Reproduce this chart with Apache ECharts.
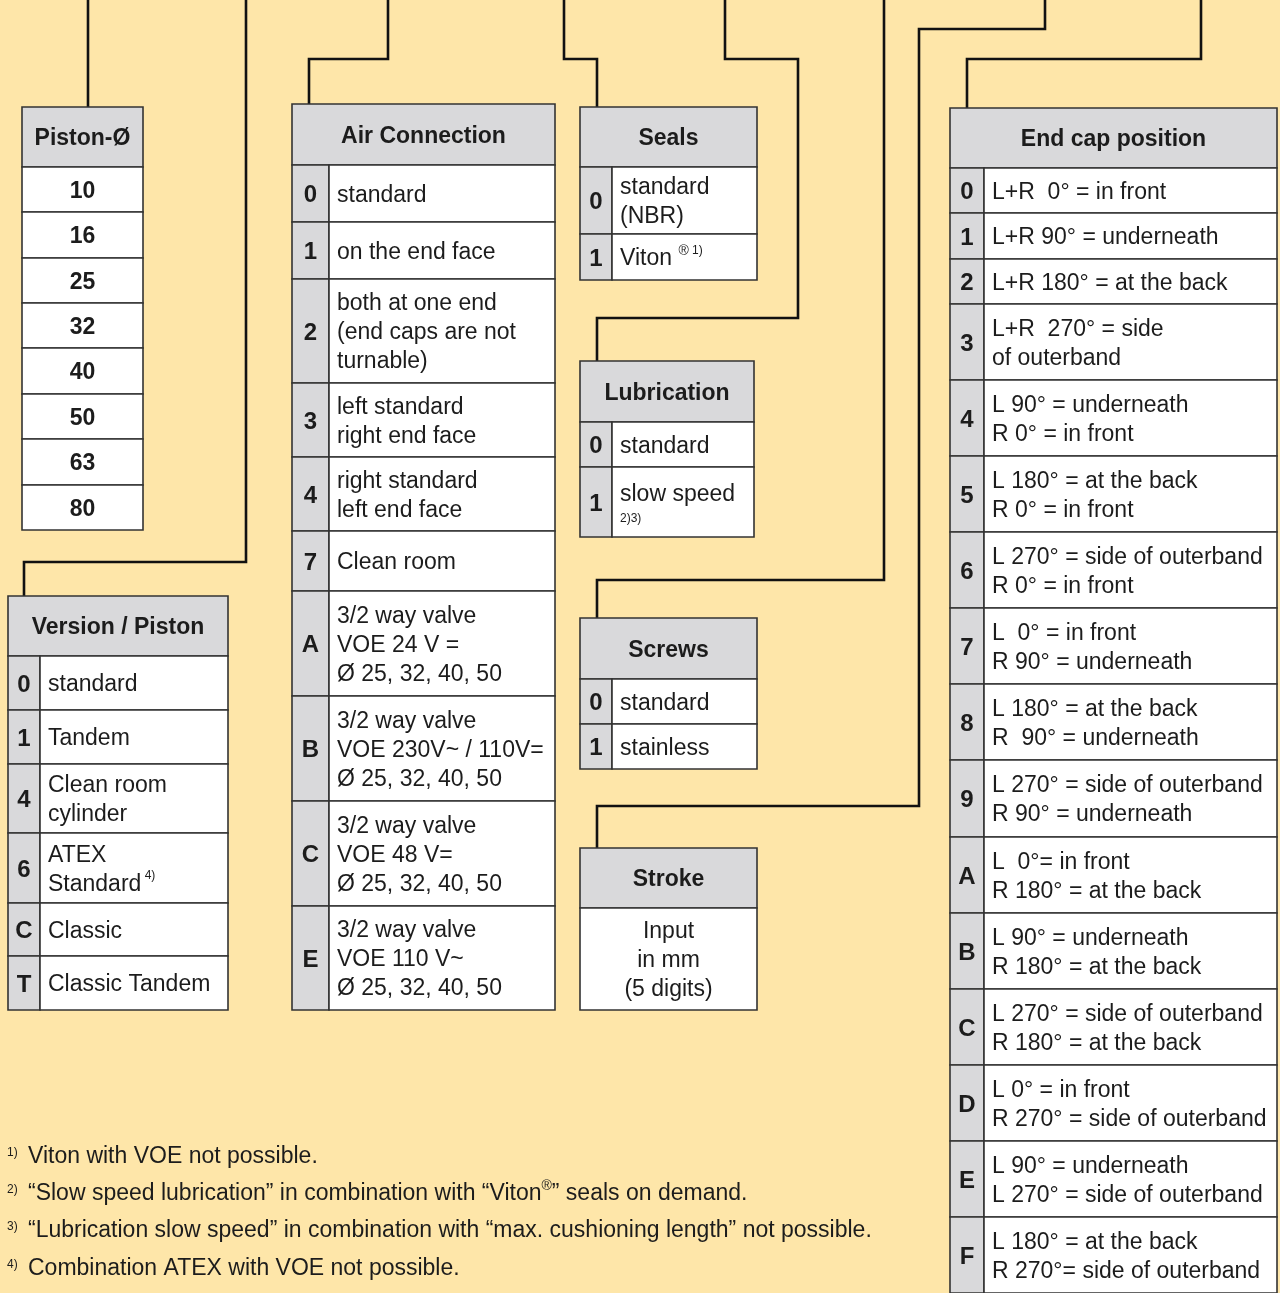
<!DOCTYPE html>
<html><head><meta charset="utf-8">
<script src="https://cdn.jsdelivr.net/npm/echarts@6/dist/echarts.min.js"></script>
<style>html,body{margin:0;padding:0;background:#fee6a9}#c{width:1280px;height:1293px}</style>
</head><body><div id="c"></div>
<script>
// ================= DATA =================
const pistonTitle = 'Piston-Ø';
const pistonValues = ['10', '16', '25', '32', '40', '50', '63', '80'];

const versionTitle = 'Version / Piston';
const versionCodes = ['0', '1', '4', '6', 'C', 'T'];
const versionTexts = ['standard', 'Tandem', 'Clean room\ncylinder', 'ATEX\nStandard{sup| 4)}', 'Classic', 'Classic Tandem'];

const airTitle = 'Air Connection';
const airCodes = ['0', '1', '2', '3', '4', '7', 'A', 'B', 'C', 'E'];
const airTexts = [
  'standard',
  'on the end face',
  'both at one end\n(end caps are not\nturnable)',
  'left standard\nright end face',
  'right standard\nleft end face',
  'Clean room',
  '3/2 way valve\nVOE 24 V =\nØ 25, 32, 40, 50',
  '3/2 way valve\nVOE 230V~ / 110V=\nØ 25, 32, 40, 50',
  '3/2 way valve\nVOE 48 V=\nØ 25, 32, 40, 50',
  '3/2 way valve\nVOE 110 V~\nØ 25, 32, 40, 50'
];

const sealsTitle = 'Seals';
const sealsCodes = ['0', '1'];
const sealsTexts = ['standard\n(NBR)', 'Viton {reg|®}{sup| 1)}'];

const lubTitle = 'Lubrication';
const lubCodes = ['0', '1'];
const lubTexts = ['standard', 'slow speed\n{note|2)3)}'];

const screwsTitle = 'Screws';
const screwsCodes = ['0', '1'];
const screwsTexts = ['standard', 'stainless'];

const strokeTitle = 'Stroke';
const strokeTexts = ['Input\nin mm\n(5 digits)'];

const endcapTitle = 'End cap position';
const endcapCodes = ['0', '1', '2', '3', '4', '5', '6', '7', '8', '9', 'A', 'B', 'C', 'D', 'E', 'F'];
const endcapTexts = [
  'L+R  0° = in front',
  'L+R 90° = underneath',
  'L+R 180° = at the back',
  'L+R  270° = side\nof outerband',
  'L 90° = underneath\nR 0° = in front',
  'L 180° = at the back\nR 0° = in front',
  'L 270° = side of outerband\nR 0° = in front',
  'L  0° = in front\nR 90° = underneath',
  'L 180° = at the back\nR  90° = underneath',
  'L 270° = side of outerband\nR 90° = underneath',
  'L  0°= in front\nR 180° = at the back',
  'L 90° = underneath\nR 180° = at the back',
  'L 270° = side of outerband\nR 180° = at the back',
  'L 0° = in front\nR 270° = side of outerband',
  'L 90° = underneath\nL 270° = side of outerband',
  'L 180° = at the back\nR 270°= side of outerband'
];

const footnoteMarks = ['1)', '2)', '3)', '4)'];
const footnoteTexts = [
  'Viton with VOE not possible.',
  '“Slow speed lubrication” in combination with “Viton{reg|®}” seals on demand.',
  '“Lubrication slow speed” in combination with “max. cushioning length” not possible.',
  'Combination ATEX with VOE not possible.'
];

// ================= LAYOUT / STYLE =================
const FONT = '"Liberation Sans", Arial, Helvetica, sans-serif';
const BG = '#fee6a9', HEAD = '#d9d9db', CODEFILL = '#d9d9db', BORDER = '#333333', INK = '#1c1c1c', WIRE = '#111111';
const FS = 23, LH = 29, TEXT_DY = 2;

const tables = [
  { title: pistonTitle, codes: null, texts: pistonValues, bodyBold: true, bodyCenter: true,
    x0: 22, x1: 143, y0: 107, headerH: 60, rows: [45, 46, 45, 45, 46, 45, 46, 45] },
  { title: versionTitle, codes: versionCodes, texts: versionTexts,
    x0: 8, x1: 228, y0: 596, headerH: 60, codeW: 32, rows: [54, 54, 69, 70, 53, 54] },
  { title: airTitle, codes: airCodes, texts: airTexts,
    x0: 292, x1: 555, y0: 104, headerH: 61, codeW: 37, rows: [57, 57, 104, 74, 74, 60, 105, 105, 105, 104] },
  { title: sealsTitle, codes: sealsCodes, texts: sealsTexts,
    x0: 580, x1: 757, y0: 107, headerH: 60, codeW: 32, rows: [67, 46] },
  { title: lubTitle, codes: lubCodes, texts: lubTexts,
    x0: 580, x1: 754, y0: 361, headerH: 61, codeW: 32, rows: [45, 70] },
  { title: screwsTitle, codes: screwsCodes, texts: screwsTexts,
    x0: 580, x1: 757, y0: 618, headerH: 61, codeW: 32, rows: [45, 45] },
  { title: strokeTitle, codes: null, texts: strokeTexts, bodyBold: false, bodyCenter: true,
    x0: 580, x1: 757, y0: 848, headerH: 60, rows: [102] },
  { title: endcapTitle, codes: endcapCodes, texts: endcapTexts,
    x0: 950, x1: 1277, y0: 108, headerH: 60, codeW: 34, rows: [45, 46, 45, 76, 76, 76, 76, 76, 76, 77, 76, 76, 76, 76, 76, 76] }
];

// connector routes (layout)
const routes = [
  [[88, 0], [88, 107]],
  [[246, 0], [246, 562], [24, 562], [24, 596]],
  [[388, 0], [388, 59], [309, 59], [309, 104]],
  [[564, 0], [564, 59], [597, 59], [597, 107]],
  [[725, 0], [725, 59], [798, 59], [798, 318], [597, 318], [597, 361]],
  [[884, 0], [884, 580], [597, 580], [597, 618]],
  [[1045, 0], [1045, 29], [919, 29], [919, 806], [597, 806], [597, 848]],
  [[1201, 0], [1201, 59], [967, 59], [967, 108]]
];

const footY = [1155, 1192, 1229, 1267];

const RICH = {
  sup: { fontSize: 12, lineHeight: 15, verticalAlign: 'top', fill: INK, fontFamily: FONT },
  reg: { fontSize: 14, lineHeight: 17, verticalAlign: 'top', fill: INK, fontFamily: FONT },
  note: { fontSize: 12, lineHeight: 18, fill: INK, fontFamily: FONT }
};

function txt(x, y, text, opt) {
  opt = opt || {};
  return {
    type: 'text', silent: true,
    style: {
      text: text, x: x, y: y + TEXT_DY, fill: INK, fontFamily: FONT,
      fontSize: opt.size || FS, fontWeight: opt.bold ? 'bold' : 'normal',
      lineHeight: opt.lh || LH, align: opt.align || 'left', verticalAlign: 'middle',
      rich: RICH
    }
  };
}

function box(api, x0, y0, x1, y1, fill) {
  const a = api.coord([x0, y0]), b = api.coord([x1, y1]);
  return {
    type: 'rect', silent: true,
    shape: { x: a[0], y: a[1], width: b[0] - a[0], height: b[1] - a[1] },
    style: { fill: fill, stroke: BORDER, lineWidth: 1.6 }
  };
}

function renderTable(params, api) {
  const t = tables[api.value(2)];
  const ch = [];
  const P = (x, y) => api.coord([x, y]);
  let y = t.y0;
  ch.push(box(api, t.x0, y, t.x1, y + t.headerH, HEAD));
  let c = P((t.x0 + t.x1) / 2, y + t.headerH / 2);
  ch.push(txt(c[0], c[1], t.title, { bold: true, align: 'center' }));
  y += t.headerH;
  t.rows.forEach((h, i) => {
    const y2 = y + h;
    if (t.codes) {
      const xc = t.x0 + t.codeW;
      ch.push(box(api, t.x0, y, xc, y2, CODEFILL));
      ch.push(box(api, xc, y, t.x1, y2, '#ffffff'));
      const cc = P((t.x0 + xc) / 2, (y + y2) / 2);
      ch.push(txt(cc[0], cc[1], t.codes[i], { bold: true, align: 'center', size: 24 }));
      const tc = P(xc + 8, (y + y2) / 2);
      ch.push(txt(tc[0], tc[1], t.texts[i]));
    } else {
      ch.push(box(api, t.x0, y, t.x1, y2, '#ffffff'));
      const tc = P((t.x0 + t.x1) / 2, (y + y2) / 2);
      ch.push(txt(tc[0], tc[1], t.texts[i], { bold: t.bodyBold, align: 'center' }));
    }
    y = y2;
  });
  return { type: 'group', children: ch };
}

function renderRoute(params, api) {
  const r = routes[api.value(2)];
  return {
    type: 'polyline', silent: true,
    shape: { points: r.map(p => api.coord(p)) },
    style: { stroke: WIRE, lineWidth: 2.6, fill: null, lineJoin: 'miter' }
  };
}

function renderNote(params, api) {
  const i = api.value(2);
  const p = api.coord([28, footY[i]]);
  const m = api.coord([7, footY[i] - 4]);
  return {
    type: 'group', children: [
      txt(m[0], m[1], footnoteMarks[i], { size: 12, lh: 14 }),
      txt(p[0], p[1], footnoteTexts[i])
    ]
  };
}

const chart = echarts.init(document.getElementById('c'), null, { renderer: 'canvas' });
chart.setOption({
  backgroundColor: BG,
  animation: false,
  grid: { left: 0, right: 0, top: 0, bottom: 0 },
  xAxis: { type: 'value', min: 0, max: 1280, show: false },
  yAxis: { type: 'value', min: 0, max: 1293, inverse: true, show: false },
  series: [
    { type: 'custom', name: 'connectors', clip: false, renderItem: renderRoute,
      encode: { x: 0, y: 1 }, data: routes.map((r, i) => [r[0][0], r[0][1], i]) },
    { type: 'custom', name: 'tables', clip: false, renderItem: renderTable,
      encode: { x: 0, y: 1 }, data: tables.map((t, i) => [t.x0, t.y0, i]) },
    { type: 'custom', name: 'footnotes', clip: false, renderItem: renderNote,
      encode: { x: 0, y: 1 }, data: footY.map((y, i) => [28, y, i]) }
  ]
});
</script>
</body></html>
